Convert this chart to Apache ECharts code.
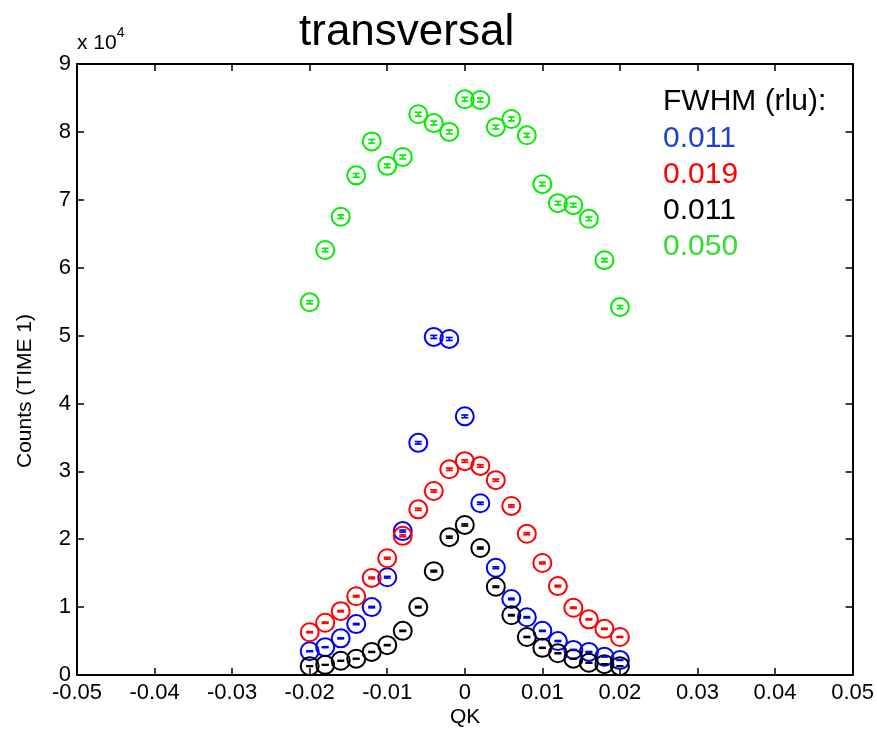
<!DOCTYPE html>
<html>
<head>
<meta charset="utf-8">
<script src="https://cdn.jsdelivr.net/npm/echarts@6/dist/echarts.min.js"></script>
<style>
  html, body { margin: 0; padding: 0; background: #fff; }
</style>
</head>
<body>
<div id="main" style="width: 877px;height:731px;"></div>
<script>
// QK positions (rlu)
const qk = [-0.02, -0.018, -0.016, -0.014, -0.012, -0.01, -0.008, -0.006, -0.004, -0.002, 0,
            0.002, 0.004, 0.006, 0.008, 0.01, 0.012, 0.014, 0.016, 0.018, 0.02];

// counts
const blueCounts  = [3500, 4100, 5400, 7500, 10000, 14400, 21200, 34200, 49800, 49500, 38100,
                     25300, 15800, 11200, 8500, 6500, 5000, 3700, 3400, 2700, 2200];
const redCounts   = [6300, 7700, 9400, 11600, 14300, 17200, 20500, 24400, 27100, 30300, 31500,
                     30800, 28700, 24900, 20800, 16500, 13100, 9900, 8200, 6800, 5600];
const blackCounts = [1300, 1500, 2100, 2400, 3400, 4400, 6500, 10000, 15300, 20300, 22100,
                     18700, 13000, 8800, 5600, 4000, 3200, 2400, 1800, 1600, 1300];
const greenCounts = [54900, 62600, 67500, 73600, 78600, 75000, 76300, 82600, 81300, 80000, 84800,
                     84700, 80700, 81900, 79500, 72300, 69500, 69200, 67200, 61100, 54200];

// error bar half heights (counts)
const blueErr  = [60, 60, 70, 90, 100, 120, 150, 180, 220, 220, 200, 160, 130, 110, 90, 80, 70, 60, 60, 50, 50];
const redErr   = [80, 90, 100, 110, 120, 130, 140, 160, 160, 170, 180, 180, 170, 160, 140, 130, 110, 100, 90, 80, 70];
const blackErr = [40, 40, 50, 50, 60, 70, 80, 100, 120, 140, 150, 140, 110, 90, 70, 60, 60, 50, 40, 40, 40];
const greenErr = [230, 250, 260, 270, 280, 270, 280, 290, 290, 280, 290, 290, 280, 290, 280, 270, 260, 260, 260, 250, 230];

const xTicks = [-0.05, 0.05, 0.01];   // min, max, step
const yTicks = [0, 90000, 10000];

const fwhmLabels = ['0.011', '0.019', '0.011', '0.050'];
const fwhmColors = ['#1f3fcf', '#ff0000', '#000000', '#33dd33'];
const markColors = ['#0000ff', '#ff0000', '#000000', '#00ee00'];

const sets = [
  { name: 'blue', counts: blueCounts, err: blueErr },
  { name: 'red', counts: redCounts, err: redErr },
  { name: 'black', counts: blackCounts, err: blackErr },
  { name: 'green', counts: greenCounts, err: greenErr }
];

const myChart = echarts.init(document.getElementById('main'));
const font = '"Liberation Sans", Helvetica, Arial, sans-serif';

const series = [];
sets.forEach(function (s, k) {
  const color = markColors[k];
  const pts = [];
  const bars = [];
  for (let i = 0; i < qk.length; i++) {
    pts.push([qk[i], s.counts[i]]);
    bars.push([qk[i], s.counts[i] - s.err[i], s.counts[i] + s.err[i]]);
  }
  series.push({
    name: s.name,
    type: 'scatter',
    data: pts,
    symbol: 'circle',
    symbolSize: 18,
    itemStyle: { color: 'rgba(0,0,0,0)', borderColor: color, borderWidth: 2, opacity: 1 },
    silent: true,
    z: 2
  });
  series.push({
    name: s.name + '-err',
    type: 'custom',
    data: bars,
    silent: true,
    z: 3,
    renderItem: function (params, api) {
      const lo = api.coord([api.value(0), api.value(1)]);
      const hi = api.coord([api.value(0), api.value(2)]);
      const w = 3.5;
      const st = { stroke: color, lineWidth: 1.7 };
      return {
        type: 'group',
        children: [
          { type: 'line', shape: { x1: lo[0], y1: lo[1], x2: hi[0], y2: hi[1] }, style: st },
          { type: 'line', shape: { x1: lo[0] - w, y1: lo[1], x2: lo[0] + w, y2: lo[1] }, style: st },
          { type: 'line', shape: { x1: hi[0] - w, y1: hi[1], x2: hi[0] + w, y2: hi[1] }, style: st }
        ]
      };
    }
  });
});

const legendText = [{
  type: 'text', left: 663, top: 87,
  style: { text: 'FWHM (rlu):', font: '30px ' + font, fill: '#000' }
}];
fwhmLabels.forEach(function (t, k) {
  legendText.push({
    type: 'text', left: 663, top: 124 + k * 36,
    style: { text: t, font: '30px ' + font, fill: fwhmColors[k] }
  });
});

const axisLine = { onZero: false, lineStyle: { color: '#000', width: 2 } };
const tickStyle = { inside: true, length: 7, lineStyle: { color: '#000', width: 1.5 } };

const option = {
  animation: false,
  backgroundColor: '#fff',
  title: {
    text: 'transversal',
    left: 294, top: 6,
    textStyle: { fontFamily: font, fontSize: 44, fontWeight: 'normal', color: '#000' }
  },
  grid: { left: 77, right: 22, top: 64, bottom: 56 },
  xAxis: [{
    type: 'value',
    min: xTicks[0], max: xTicks[1], interval: xTicks[2],
    position: 'bottom',
    axisLine: axisLine,
    axisTick: tickStyle,
    splitLine: { show: false },
    axisLabel: {
      color: '#000', fontFamily: font, fontSize: 22, margin: 7,
      formatter: function (v) { return Math.round(v * 100) === 0 ? '0' : (Math.round(v * 100) / 100).toString(); }
    }
  }, {
    type: 'value',
    min: xTicks[0], max: xTicks[1], interval: xTicks[2],
    position: 'top',
    axisLine: axisLine,
    axisTick: tickStyle,
    axisLabel: { show: false },
    splitLine: { show: false }
  }],
  yAxis: [{
    type: 'value',
    min: yTicks[0], max: yTicks[1], interval: yTicks[2],
    position: 'left',
    axisLine: axisLine,
    axisTick: tickStyle,
    splitLine: { show: false },
    axisLabel: {
      color: '#000', fontFamily: font, fontSize: 22, margin: 6,
      formatter: function (v) { return String(v / 10000); }
    }
  }, {
    type: 'value',
    min: yTicks[0], max: yTicks[1], interval: yTicks[2],
    position: 'right',
    axisLine: axisLine,
    axisTick: tickStyle,
    axisLabel: { show: false },
    splitLine: { show: false }
  }],
  graphic: legendText.concat([
    {
      type: 'text', left: 77, top: 26,
      style: {
        text: '{a|x 10}{b|4}',
        rich: {
          a: { font: '21px ' + font, fill: '#000', padding: [7, 0, 0, 0] },
          b: { font: '14px ' + font, fill: '#000', verticalAlign: 'top' }
        }
      }
    },
    {
      type: 'text', left: 450, top: 707,
      style: { text: 'QK', font: '21px ' + font, fill: '#000' }
    },
    {
      type: 'text', x: 15, y: 391, rotation: Math.PI / 2,
      style: { text: 'Counts (TIME 1)', font: '21px ' + font, fill: '#000', align: 'center', verticalAlign: 'top' }
    }
  ]),
  series: series
};
myChart.setOption(option);
</script>
</body>
</html>
